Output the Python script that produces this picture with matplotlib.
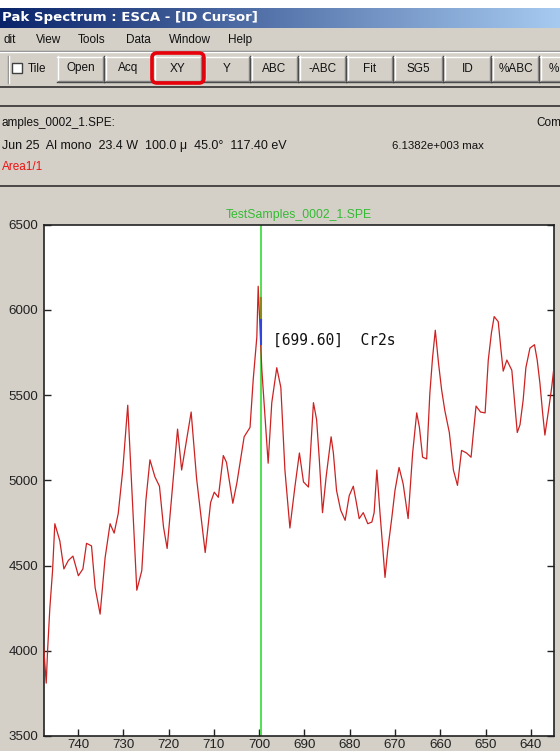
import numpy as np
import matplotlib
matplotlib.use("Agg")
import matplotlib.pyplot as plt
from matplotlib.patches import Rectangle, FancyBboxPatch

# ---------------- data ----------------
energy_ev = [747.6, 747.0, 746.7, 746.2, 745.6, 745.1, 744.0, 743.1, 742.1, 741.1,
             739.9, 738.9, 738.1, 737.0, 736.2, 735.1, 734.0, 732.9, 732.0, 731.1,
             730.1, 729.0, 727.0, 725.9, 725.0, 724.1, 723.0, 722.0, 721.1, 720.3,
             718.0, 717.1, 715.0, 713.8, 711.9, 710.7, 709.9, 709.0, 707.9, 707.2,
             705.8, 704.9, 703.3, 702.0, 701.3, 700.5, 700.2, 699.4, 698.0, 697.2,
             696.1, 695.2, 694.3, 693.2, 692.1, 691.1, 690.2, 689.1, 688.0, 687.3,
             686.7, 686.0, 685.2, 684.1, 683.6, 682.9, 682.0, 681.0, 680.1, 679.2,
             678.6, 677.9, 677.0, 676.0, 675.1, 674.6, 674.0, 673.3, 672.7, 672.2,
             671.6, 670.7, 670.0, 669.1, 668.2, 667.1, 666.1, 665.2, 664.6, 663.9,
             663.0, 662.3, 661.7, 661.1, 660.4, 659.7, 659.0, 658.0, 657.1, 656.2,
             655.3, 654.2, 653.2, 652.7, 652.1, 651.1, 650.1, 649.4, 648.7, 648.1,
             647.2, 646.6, 646.1, 645.3, 644.2, 643.7, 643.0, 642.4, 641.7, 641.1,
             640.2, 639.2, 638.6, 638.0, 637.4, 636.9, 636.1, 635.4, 635.0]
counts = [4040, 3810, 4000, 4250, 4470, 4745, 4645, 4480, 4530, 4555,
          4440, 4480, 4630, 4615, 4370, 4215, 4545, 4745, 4690, 4805,
          5060, 5440, 4355, 4470, 4880, 5120, 5020, 4965, 4725, 4600,
          5300, 5060, 5400, 5010, 4576, 4870, 4930, 4900, 5145, 5105,
          4865, 4985, 5255, 5310, 5590, 5840, 6138, 5650, 5100, 5455,
          5660, 5545, 5060, 4720, 4960, 5160, 4990, 4960, 5455, 5355,
          5120, 4810, 5020, 5255, 5160, 4940, 4825, 4765, 4910, 4965,
          4880, 4775, 4810, 4745, 4755, 4810, 5060, 4805, 4605, 4430,
          4590, 4780, 4940, 5075, 4980, 4775, 5160, 5395, 5310, 5135,
          5125, 5510, 5720, 5880, 5690, 5530, 5410, 5280, 5060, 4970,
          5175, 5160, 5135, 5275, 5435, 5400, 5395, 5705, 5865, 5960,
          5930, 5765, 5640, 5705, 5645, 5490, 5280, 5325, 5470, 5660,
          5775, 5795, 5705, 5570, 5395, 5265, 5410, 5545, 5640]

x_ticks = [740, 730, 720, 710, 700, 690, 680, 670, 660, 650, 640]
y_ticks = [3500, 4000, 4500, 5000, 5500, 6000, 6500]
x_limits = (747.6, 635.0)
y_limits = (3500, 6500)

cursor_ev = 699.6
cursor_label = "[699.60]  Cr2s"
cursor_label_pos = (696.9, 5820)
cursor_hilite = [(6070, 5940, "#8a8a1a"), (5940, 5800, "#3344dd")]

spectrum_title = "TestSamples_0002_1.SPE"
window_title = "Pak Spectrum : ESCA - [ID Cursor]"
menu_items = ["dit", "View", "Tools", "Data", "Window", "Help"]
menu_x = [4, 36, 78, 126, 169, 228]
button_labels = ["Open", "Acq", "XY", "Y", "ABC", "-ABC", "Fit", "SG5", "ID", "%ABC", "%"]
button_edges = [(57, 104), (105, 152), (154, 202), (204, 250), (251, 298), (299, 346),
                (347, 393), (394, 443), (444, 491), (492, 539), (540, 592)]
highlight_button = "XY"
info_line1 = "amples_0002_1.SPE:"
info_line1_right = "Com"
info_line2 = "Jun 25  Al mono  23.4 W  100.0 \u03bc  45.0\u00b0  117.40 eV"
info_line2_right = "6.1382e+003 max"
info_line3 = "Area1/1"

# ---------------- figure ----------------
W, H = 560, 751
DPI = 100
UI_GREY = "#d4d0c8"
fig = plt.figure(figsize=(W / DPI, H / DPI), dpi=DPI, facecolor=UI_GREY)

bg = fig.add_axes([0, 0, 1, 1], zorder=0)
bg.set_xlim(0, W)
bg.set_ylim(H, 0)
bg.axis("off")
bg.set_facecolor(UI_GREY)

uifont = dict(family=["Liberation Sans", "DejaVu Sans"], fontsize=8.5, color="#111111")

# white strip at top
bg.add_patch(Rectangle((0, 0), W, 8, facecolor="white", edgecolor="none"))
# title bar gradient
c0 = np.array([10, 36, 106]) / 255
c1 = np.array([166, 202, 240]) / 255
t = np.linspace(0, 1, 256)[None, :, None]
grad = c0 + (c1 - c0) * t
bg.imshow(grad, extent=[0, W, 28, 8], aspect="auto", zorder=1)
bg.text(2, 17.5, window_title, color="white", fontweight="bold", va="center", ha="left",
        family=["DejaVu Sans"], fontsize=9.6, zorder=2)

# menu
for lab, mx in zip(menu_items, menu_x):
    bg.text(mx, 40, lab, va="center", ha="left", **uifont)
bg.plot([0, W], [50.5, 50.5], color="#808080", lw=1)
bg.plot([0, W], [51.5, 51.5], color="white", lw=1)

# toolbar
bg.plot([7.5, 7.5], [56, 83], color="#808080", lw=1)
bg.plot([8.5, 8.5], [56, 83], color="white", lw=1)
bg.add_patch(Rectangle((12, 63), 10, 10, facecolor="white", edgecolor="#404040", lw=1))
bg.text(28, 68.5, "Tile", va="center", ha="left", **uifont)
for lab, (x0, x1) in zip(button_labels, button_edges):
    y0, y1 = 56, 82
    bg.add_patch(Rectangle((x0, y0), x1 - x0, y1 - y0, facecolor=UI_GREY, edgecolor="none"))
    bg.plot([x0, x1], [y0 + 0.5, y0 + 0.5], color="white", lw=1)
    bg.plot([x0 + 0.5, x0 + 0.5], [y0, y1], color="white", lw=1)
    bg.plot([x0, x1], [y1 - 0.5, y1 - 0.5], color="#404040", lw=1)
    bg.plot([x1 - 0.5, x1 - 0.5], [y0, y1], color="#404040", lw=1)
    bg.plot([x0 + 1, x1 - 1], [y1 - 1.5, y1 - 1.5], color="#808080", lw=1)
    bg.plot([x1 - 1.5, x1 - 1.5], [y0 + 1, y1 - 1], color="#808080", lw=1)
    if x1 > W:
        bg.text(549, 68.5, lab, va="center", ha="left", **uifont)
    else:
        bg.text((x0 + x1) / 2, 68.5, lab, va="center", ha="center", **uifont)
    if lab == highlight_button:
        bg.add_patch(FancyBboxPatch((x0 - 2, 53), (x1 - x0) + 4, 30,
                                    boxstyle="round,pad=0,rounding_size=5",
                                    facecolor="none", edgecolor="#e8000b", lw=2.6, zorder=3))
bg.plot([0, W], [86.5, 86.5], color="#303030", lw=1.2)

# info panel
bg.plot([0, W], [105.5, 105.5], color="#303030", lw=1.2)
bg.text(2, 123, info_line1, va="center", ha="left", **uifont)
bg.text(536, 123, info_line1_right, va="center", ha="left", **uifont)
bg.text(2, 146, info_line2, va="center", ha="left", **{**uifont, "fontsize": 9.0})
bg.text(392, 146, info_line2_right, va="center", ha="left",
        **{**uifont, "fontsize": 8.2})
bg.text(2, 167, info_line3, va="center", ha="left",
        **{**uifont, "color": "#ee1111"})
bg.plot([0, W], [185.5, 185.5], color="#303030", lw=1.2)

# ---------------- chart ----------------
L, R, T, B = 43.5, 553.5, 224.5, 736.0
ax = fig.add_axes([L / W, 1 - B / H, (R - L) / W, (B - T) / H], zorder=2)
ax.set_facecolor("white")
ax.plot(energy_ev, counts, color="#cc2222", lw=0.9, zorder=3)
ax.axvline(cursor_ev, color="#44dd44", lw=1.3, zorder=2)
for top, bot, col in cursor_hilite:
    ax.plot([cursor_ev, cursor_ev], [top, bot], color=col, lw=1.5, zorder=4)
ax.text(*cursor_label_pos, cursor_label, ha="left", va="center", fontsize=10.5,
        family=["DejaVu Sans Mono"], color="#111111")
ax.set_xlim(*x_limits)
ax.set_ylim(*y_limits)
ax.set_xticks(x_ticks)
ax.set_yticks(y_ticks)
ax.set_xticklabels([str(v) for v in x_ticks])
ax.set_yticklabels([str(v) for v in y_ticks])
ax.tick_params(axis="both", direction="in", length=5, width=1, colors="#222222",
               labelsize=9.6, pad=2.5)
ax.tick_params(axis="y", right=True, pad=4)
for lab in ax.get_xticklabels() + ax.get_yticklabels():
    lab.set_family(["Liberation Sans", "DejaVu Sans"])
for s in ax.spines.values():
    s.set_color("#222222")
    s.set_linewidth(1.2)
ax.set_title(spectrum_title, color="#33bb33", fontsize=8.8,
             family=["Liberation Sans", "DejaVu Sans"], pad=5)

fig.savefig("out.png", dpi=DPI, facecolor=UI_GREY)
